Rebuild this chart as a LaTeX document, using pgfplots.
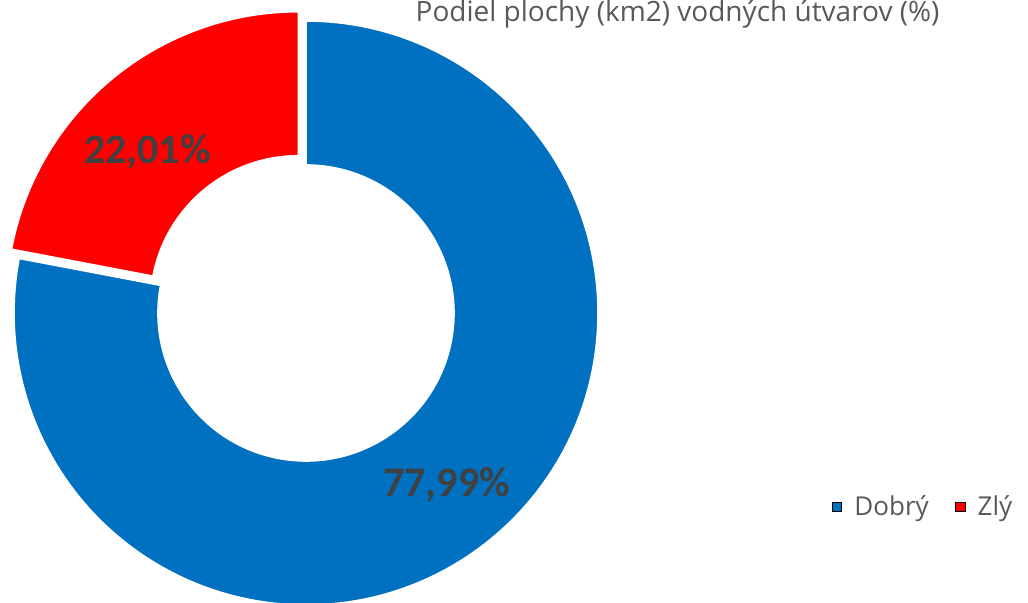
\documentclass[border=0pt]{standalone}
\usepackage{fontspec}
\setmainfont{Carlito}
\newfontfamily\osans{Open Sans}
\usepackage{pgfplots}
\usepackage{pgfplotstable}
\pgfplotsset{compat=1.18}
\usetikzlibrary{calc}
\definecolor{dobre}{HTML}{0070C0}
\definecolor{zle}{HTML}{FF0000}
\definecolor{lbl}{HTML}{404040}
\definecolor{txt}{HTML}{595959}

% share of area (%), clockwise from 12 o'clock
\pgfplotstableread[col sep=comma]{
label,value
Dobry,77.99
Zly,22.01
}\shares
\pgfplotstablegetelem{0}{value}\of\shares \let\vA\pgfplotsretval
\pgfplotstablegetelem{1}{value}\of\shares \let\vB\pgfplotsretval
\pgfmathsetmacro{\aEnd}{90-3.6*\vA}
\pgfmathsetmacro{\bEnd}{\aEnd-3.6*\vB}
\pgfmathsetmacro{\bMid}{(\aEnd+\bEnd)/2}
\def\Ro{146pt}
\def\Ri{74pt}

\begin{document}
\begin{tikzpicture}
  \begin{axis}[
    x=0.5pt, y=0.5pt,
    xmin=0, xmax=1028, ymin=0, ymax=603,
    hide axis, clip=false,
    legend style={
      at={(axis cs:829,96)}, anchor=west,
      draw=none, fill=none, inner sep=0pt,
      font=\osans\fontsize{13}{15}\selectfont, text=txt,
      legend columns=2,
      /tikz/every even column/.append style={column sep=10pt}
    },
    legend cell align=left,
    legend image code/.code={\fill[#1] (1.5pt,-2.3pt) rectangle (6.1pt,2.3pt);
      \path[draw=none, fill=none] (0pt,0pt) -- (10.5pt,0pt);}
  ]
    \coordinate (C) at (axis cs:306,290);
    \coordinate (sw) at (axis cs:0,0);
    \coordinate (ne) at (axis cs:1028,603);

    % Dobry
    \fill[dobre, draw=white, line width=0.8pt]
      ($(C)+(90:\Ro)$) arc[start angle=90, end angle=\aEnd, radius=\Ro]
      -- ($(C)+(\aEnd:\Ri)$) arc[start angle=\aEnd, end angle=90, radius=\Ri] -- cycle;
    % Zly, pulled out
    \coordinate (Cz) at ($(C)+(\bMid:6pt)$);
    \fill[zle, draw=white, line width=0.8pt]
      ($(Cz)+(\aEnd:\Ro)$) arc[start angle=\aEnd, end angle=\bEnd, radius=\Ro]
      -- ($(Cz)+(\bEnd:\Ri)$) arc[start angle=\bEnd, end angle=\aEnd, radius=\Ri] -- cycle;

    \addlegendimage{fill=dobre}
    \addlegendentry{Dobrý}
    \addlegendimage{fill=zle}
    \addlegendentry{Zlý}

    \node[anchor=base, text=lbl, font=\bfseries\fontsize{21}{25}\selectfont]
      at (axis cs:147.5,439.7) {22,01\%};
    \node[anchor=base, text=lbl, font=\bfseries\fontsize{21}{25}\selectfont]
      at (axis cs:446.7,106.3) {77,99\%};
    \node[anchor=base, text=txt, font=\osans\fontsize{14}{16}\selectfont]
      at (axis cs:677.5,581) {Podiel plochy (km2) vodných útvarov (\%)};
  \end{axis}
  \pgfresetboundingbox
  \useasboundingbox (sw) rectangle (ne);
\end{tikzpicture}
\end{document}
